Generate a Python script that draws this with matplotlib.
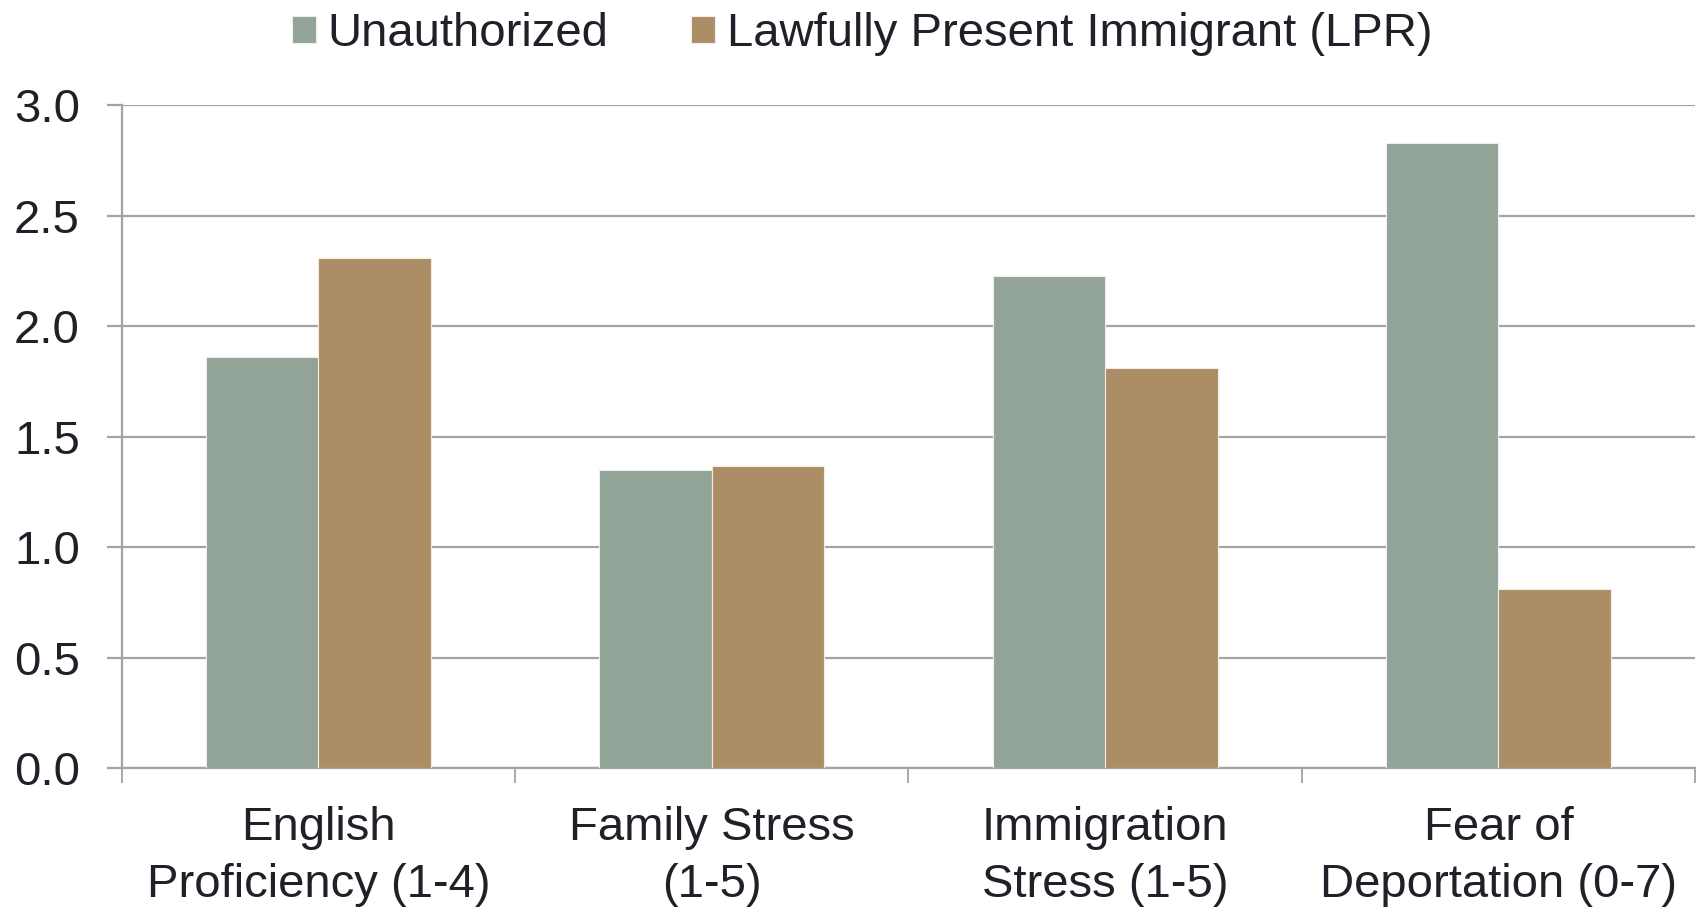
import matplotlib
matplotlib.use("Agg")
import matplotlib.pyplot as plt
import numpy as np

categories = ["English\nProficiency (1-4)", "Family Stress\n(1-5)",
              "Immigration\nStress (1-5)", "Fear of\nDeportation (0-7)"]
unauthorized = [1.86, 1.35, 2.23, 2.83]
lpr = [2.31, 1.37, 1.81, 0.81]
series_names = ["Unauthorized", "Lawfully Present Immigrant (LPR)"]
yticks = [0.0, 0.5, 1.0, 1.5, 2.0, 2.5, 3.0]

plt.rcParams["font.family"] = ["Liberation Sans", "DejaVu Sans"]
text_color = "#202028"
grid_color = "#a3a3a3"
c_unauth = "#92a397"
c_lpr = "#ab8e66"
fs = 34

fig = plt.figure(figsize=(17.04, 9.07), dpi=100)
ax = fig.add_axes([0.0714, 0.1529, 0.9234, 0.7309])

x = np.arange(len(categories))
w = 0.286
b1 = ax.bar(x - w / 2, unauthorized, width=w, color=c_unauth,
            edgecolor="#eeeeee", linewidth=0.8, label=series_names[0], zorder=3)
b2 = ax.bar(x + w / 2, lpr, width=w, color=c_lpr,
            edgecolor="#f3ece4", linewidth=0.8, label=series_names[1], zorder=3)

ax.set_xlim(-0.5, 3.5)
ax.set_ylim(0, 3.0)
ax.set_yticks(yticks)
ax.set_yticklabels([f"{v:.1f}" for v in yticks])
ax.yaxis.grid(True, color=grid_color, linewidth=1.6, zorder=0)
ax.set_axisbelow(True)

# category boundaries get tick marks, labels sit at the group centres
ax.set_xticks(np.arange(-0.5, 3.6, 1.0))
ax.set_xticklabels([])
ax.set_xticks(x, minor=True)
ax.set_xticklabels(categories, minor=True, fontsize=fs, color=text_color,
                   linespacing=1.38)
ax.tick_params(axis="x", which="major", length=11, width=1.3, color=grid_color)
ax.tick_params(axis="x", which="minor", length=0, pad=27)
ax.tick_params(axis="y", length=11, width=1.6, color=grid_color, pad=19,
               labelsize=fs, labelcolor=text_color)

for side in ["top", "right"]:
    ax.spines[side].set_visible(False)
for side in ["left", "bottom"]:
    ax.spines[side].set_color(grid_color)
    ax.spines[side].set_linewidth(1.6)

leg = fig.legend(handles=[b1, b2], labels=series_names, loc="center",
                 bbox_to_anchor=(0.506, 0.962), ncol=2, frameon=False,
                 fontsize=fs, handlelength=0.5, handleheight=0.5,
                 handletextpad=0.25, columnspacing=1.75, borderaxespad=0)
for t in leg.get_texts():
    t.set_color(text_color)

fig.savefig("out.png", dpi=100, facecolor="white")
